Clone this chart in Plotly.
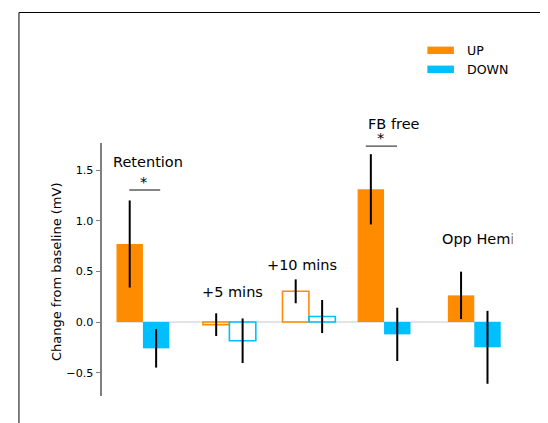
import plotly.graph_objects as go

# ---- data ----
categories = ["Retention", "+5 mins", "+10 mins", "FB free", "Opp Hemi"]
group_pos = [0.0, 1.083, 2.079, 3.020, 4.150]
up_mean = [0.77, -0.026, 0.303, 1.31, 0.263]
up_err = [0.43, 0.112, 0.118, 0.347, 0.234]
down_mean = [-0.26, -0.185, 0.054, -0.122, -0.25]
down_err = [0.19, 0.22, 0.163, 0.263, 0.36]
filled = [True, False, False, True, True]
series_names = ["UP", "DOWN"]
ytick_vals = [-0.5, 0.0, 0.5, 1.0, 1.5]
ytick_text = ["\u22120.5", "0.0", "0.5", "1.0", "1.5"]
# label anchor positions (x in data units, y in data units unless noted)
label_x = [0.0575, 1.119, 1.995, 3.144, 3.725]
label_y = [1.577, 0.293, 0.56, None, 0.816]
sig_groups = [0, 3]
sig_x0 = [-0.171, 2.791]
sig_x1 = [0.216, 3.1825]
sig_y = [1.303, 1.737]

ORANGE = "#FF8C00"
BLUE = "#00BFFF"
bar_w = 0.331
FONT = "DejaVu Sans"

# pixel geometry (screenshot coordinates; page body has an 8px offset)
OFF = 8.0
W, H = 548, 423
L, R, T, B = 101.7, 512.5, 143.0, 396.0
pw, ph = R - L, B - T
x_range = [(L - 142.7) / 80.0, (R - 142.7) / 80.0]
y_range = [-(B - 322.0) / 101.3, (322.0 - T) / 101.3]


def px_to_paper_x(px):
    return (px - L) / pw


def px_to_paper_y(py):
    return (B - py) / ph


fig = go.Figure()

for name, means, errs, color, sign in [
    (series_names[0], up_mean, up_err, ORANGE, -1),
    (series_names[1], down_mean, down_err, BLUE, 1),
]:
    xs = [p + sign * bar_w / 2 for p in group_pos]
    fig.add_trace(
        go.Bar(
            x=xs,
            y=means,
            width=bar_w,
            name=name,
            showlegend=False,
            marker=dict(
                color=[color if f else "rgba(0,0,0,0)" for f in filled],
                line=dict(color=color, width=[0 if f else 1.6 for f in filled]),
            ),
            error_y=dict(
                type="data", array=errs, visible=True,
                color="black", thickness=2, width=0,
            ),
        )
    )

shapes = []
# zero line
shapes.append(dict(
    type="line", xref="x", yref="y",
    x0=group_pos[0] - bar_w, x1=group_pos[-1] + bar_w, y0=0, y1=0,
    line=dict(color="#c8c8c8", width=1), layer="below",
))
# significance lines
for x0, x1, y in zip(sig_x0, sig_x1, sig_y):
    shapes.append(dict(
        type="line", xref="x", yref="y", x0=x0, x1=x1, y0=y, y1=y,
        line=dict(color="#444444", width=1.3),
    ))
# outer frame
shapes.append(dict(
    type="rect", xref="paper", yref="paper",
    x0=px_to_paper_x(18.5), x1=px_to_paper_x(544.0),
    y0=px_to_paper_y(460.0), y1=px_to_paper_y(12.5),
    line=dict(color="black", width=1), fillcolor="rgba(0,0,0,0)",
))
# legend patches
for i, color in enumerate([ORANGE, BLUE]):
    cy = 50.3 + 19.0 * i
    shapes.append(dict(
        type="rect", xref="paper", yref="paper",
        x0=px_to_paper_x(427.7), x1=px_to_paper_x(454.3),
        y0=px_to_paper_y(cy + 3.7), y1=px_to_paper_y(cy - 3.7),
        line=dict(width=0), fillcolor=color,
    ))

annotations = []
for i, cat in enumerate(categories):
    if cat == "FB free":
        annotations.append(dict(
            x=label_x[i], y=px_to_paper_y(124.0), xref="x", yref="paper",
            text=cat, showarrow=False, xanchor="center", yanchor="middle",
            font=dict(family=FONT, size=14.5, color="black"),
        ))
    elif cat == "Opp Hemi":
        annotations.append(dict(
            x=label_x[i], y=label_y[i], xref="x", yref="y",
            text=cat, showarrow=False, xanchor="left", yanchor="middle",
            font=dict(family=FONT, size=14.5, color="black"),
        ))
        # the reference clips this label at the right edge of the axes
        annotations.append(dict(
            x=1.0, y=label_y[i], xref="paper", yref="y",
            text="&nbsp;", showarrow=False, xanchor="left", yanchor="middle",
            width=28, height=22, borderpad=0, bgcolor="white",
            font=dict(family=FONT, size=14.5, color="white"),
        ))
    else:
        annotations.append(dict(
            x=label_x[i], y=label_y[i], xref="x", yref="y",
            text=cat, showarrow=False, xanchor="center", yanchor="middle",
            font=dict(family=FONT, size=14.5, color="black"),
        ))
# stars
for g, x0, x1, y in zip(sig_groups, sig_x0, sig_x1, sig_y):
    annotations.append(dict(
        x=(x0 + x1) / 2 - 0.015, y=y, xref="x", yref="y",
        text="*", showarrow=False, xanchor="center", yanchor="bottom",
        yshift=-2,
        font=dict(family=FONT, size=14.5, color="black"),
    ))
# y axis title
annotations.append(dict(
    x=px_to_paper_x(56.0), y=px_to_paper_y(271.7), xref="paper", yref="paper",
    text="Change from baseline (mV)", textangle=-90, showarrow=False,
    xanchor="center", yanchor="middle",
    font=dict(family=FONT, size=13, color="black"),
))
# legend texts
for i, name in enumerate(series_names):
    annotations.append(dict(
        x=px_to_paper_x(465.3), y=px_to_paper_y(50.3 + 19.0 * i),
        xref="paper", yref="paper", text=name, showarrow=False,
        xanchor="left", yanchor="middle",
        font=dict(family=FONT, size=12.6, color="black"),
    ))

fig.update_layout(
    width=W, height=H,
    margin=dict(l=L - OFF, r=W - (R - OFF), t=T - OFF, b=H - (B - OFF), pad=0),
    paper_bgcolor="white", plot_bgcolor="white",
    barmode="overlay",
    showlegend=False,
    shapes=shapes,
    annotations=annotations,
    font=dict(family=FONT, color="black"),
    xaxis=dict(range=x_range, visible=False, showgrid=False, zeroline=False),
    yaxis=dict(
        range=y_range, showgrid=False, zeroline=False,
        showline=True, linecolor="#7f7f7f", linewidth=1.6,
        ticks="outside", ticklen=4.5, tickwidth=1.2, tickcolor="#7f7f7f",
        tickvals=ytick_vals, ticktext=ytick_text,
        tickfont=dict(family=FONT, size=11.2, color="black"),
    ),
)

fig.write_html("out.html")
